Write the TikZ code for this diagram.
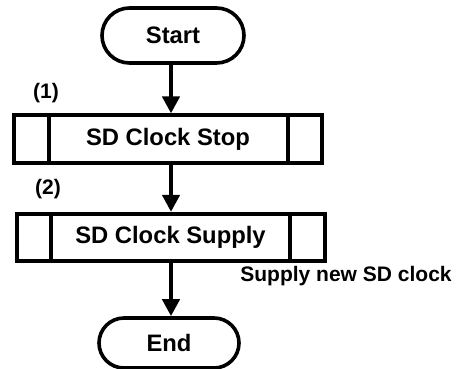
\documentclass[tikz,border=0pt]{standalone}
\usepackage{fontspec}
\setmainfont{Liberation Sans}
\usetikzlibrary{arrows.meta}

\tikzset{
  terminal/.style={draw, line width=1.8pt, rounded corners=#1, font=\fontsize{11.9}{14}\bfseries},
  procbox/.style={draw, line width=2pt, minimum width=154pt, minimum height=23.6pt, font=\fontsize{11.9}{14}\bfseries},
  boxline/.style={line width=2pt},
  flow/.style={line width=2.2pt, -{Triangle[length=8.5pt,width=8.5pt]}},
  tag/.style={font=\fontsize{10.5}{12}\bfseries}
}

\begin{document}
\begin{tikzpicture}[x=0.5pt,y=-0.5pt]
	\useasboundingbox (0,0) rectangle (456,369);
	\node[terminal=13.75pt, minimum width=71pt, minimum height=27.5pt] (start) at (173,35.5) {Start};
	\node[procbox] (stop) at (168,139) {SD Clock Stop};
	\node[procbox] (supply) at (170.5,237.5) {SD Clock Supply};
	\node[terminal=12.5pt, minimum width=70pt, minimum height=25pt] (end) at (169,343) {End};
	\foreach \b in {stop,supply}
		{\draw[boxline] ([xshift=18.25pt]\b.north west) -- ([xshift=18.25pt]\b.south west);
		 \draw[boxline] ([xshift=-18.25pt]\b.north east) -- ([xshift=-18.25pt]\b.south east);};
	\node[tag] (n1) at (46,93) {(1)};
	\node[tag] (n2) at (48,189) {(2)};
	\node[tag, anchor=west, inner sep=0pt] (note) at (240,276) {Supply new SD clock};
	\coordinate (c1) at ([xshift=-1pt]start.south |- stop.north);
	\coordinate (c2) at ([xshift=-1pt]start.south |- stop.south);
	\coordinate (c3) at ([xshift=-1pt]start.south |- supply.north);
	\coordinate (c4) at ([xshift=-1pt]start.south |- supply.south);
	\coordinate (c5) at ([xshift=-1pt]start.south |- end.north);
	\draw[flow] ([xshift=-1pt]start.south) -- (c1);
	\draw[flow] (c2) -- (c3);
	\draw[flow] (c4) -- (c5);
\end{tikzpicture}
\end{document}
